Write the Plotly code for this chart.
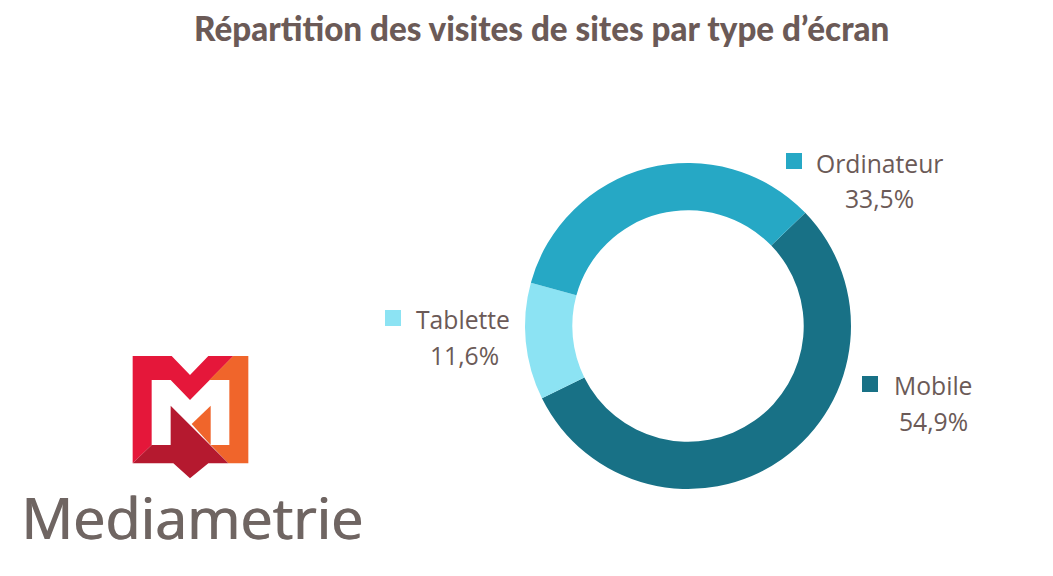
"""
Répartition des visites de sites par type d'écran (Médiamétrie donut).
"""

import plotly.graph_objects as go

W = 1037
H = 560
PAGE_MARGIN = 8  # the browser keeps 8px of body margin around the figure

labels = ["Mobile", "Tablette", "Ordinateur"]
shares = [54.9, 11.6, 33.5]
share_labels = ["54,9%", "11,6%", "33,5%"]
colors = ["#187186", "#8CE3F3", "#26A8C5"]

TEXT = "#6B5A57"
LOGO_TEXT = "#6F6562"
FONT = "Open Sans"


def pos(x, y):
    # picture pixels to paper coordinates
    return (x - PAGE_MARGIN) / W, 1 - (y - PAGE_MARGIN) / H


def logo_path(points):
    # points were measured on a 3x crop starting at (0, 340)
    parts = []
    for i, (zx, zy) in enumerate(points):
        x, y = pos(zx / 3, 340 + zy / 3)
        parts.append(f"{'M' if i == 0 else 'L'}{x:.5f},{y:.5f}")
    return " ".join(parts) + " Z"


fig = go.Figure()

dom_x0, dom_y1 = pos(525, 163)
dom_x1, dom_y0 = pos(851, 489)

fig.add_trace(
    go.Pie(
        labels=labels,
        values=shares,
        hole=0.71,
        sort=False,
        direction="clockwise",
        rotation=46,
        textinfo="none",
        showlegend=False,
        marker=dict(colors=colors, line=dict(width=0)),
        domain=dict(x=[dom_x0, dom_x1], y=[dom_y0, dom_y1]),
    )
)

##################################
## Labels
##################################

label_pos = {
    "Mobile": (933, 385, 933, 421, 862, 376),
    "Tablette": (463, 319, 464, 355, 385, 310),
    "Ordinateur": (879, 163, 879, 198, 786, 153),
}

shapes = []
annotations = []

for name, share, color in zip(labels, share_labels, colors):
    lx, ly, vx, vy, sx, sy = label_pos[name]
    for text, tx, ty in [(name, lx, ly), (share, vx, vy)]:
        x, y = pos(tx, ty)
        annotations.append(
            dict(
                text=text, x=x, y=y, xref="paper", yref="paper",
                xanchor="center", yanchor="middle", showarrow=False,
                font=dict(family=FONT, size=24.7, color=TEXT),
            )
        )
    x0, y0 = pos(sx, sy)
    x1, y1 = pos(sx + 16, sy + 16)
    shapes.append(
        dict(type="rect", xref="paper", yref="paper", x0=x0, y0=y0, x1=x1, y1=y1,
             fillcolor=color, line=dict(width=0))
    )

x, y = pos(541, 28)
annotations.append(
    dict(
        text="Répartition des visites de sites par type d’écran",
        x=x, y=y, xref="paper", yref="paper",
        xanchor="center", yanchor="middle", showarrow=False,
        font=dict(family="Lato", size=33.2, weight=900, color=TEXT),
    )
)

##################################
## Logo
##################################

logo_parts = [
    ("#E5173A", [(398, 48), (515, 48), (570, 105), (625, 48), (700, 48), (570, 180),
                 (512, 120), (455, 120), (455, 315), (398, 370)]),
    ("#F0652B", [(700, 48), (745, 48), (745, 370), (685, 370), (632, 315), (688, 315),
                 (688, 120), (628, 120)]),
    ("#F0652B", [(575, 252), (632, 197), (632, 315)]),
    ("#B5192F", [(398, 370), (455, 315), (512, 315), (512, 197), (685, 370), (625, 370),
                 (570, 415), (520, 370)]),
]

for color, points in logo_parts:
    shapes.append(
        dict(type="path", xref="paper", yref="paper", path=logo_path(points),
             fillcolor=color, line=dict(width=0))
    )

x, y = pos(192, 517)
annotations.append(
    dict(
        text="Mediametrie", x=x, y=y, xref="paper", yref="paper",
        xanchor="center", yanchor="middle", showarrow=False,
        font=dict(family="Open Sans", size=57.5, color=LOGO_TEXT,
                  shadow=f"1px 0 0 {LOGO_TEXT}"),
    )
)

fig.update_layout(
    width=W,
    height=H,
    margin=dict(l=0, r=0, t=0, b=0),
    paper_bgcolor="white",
    plot_bgcolor="white",
    shapes=shapes,
    annotations=annotations,
)

fig.write_html("out.html")
